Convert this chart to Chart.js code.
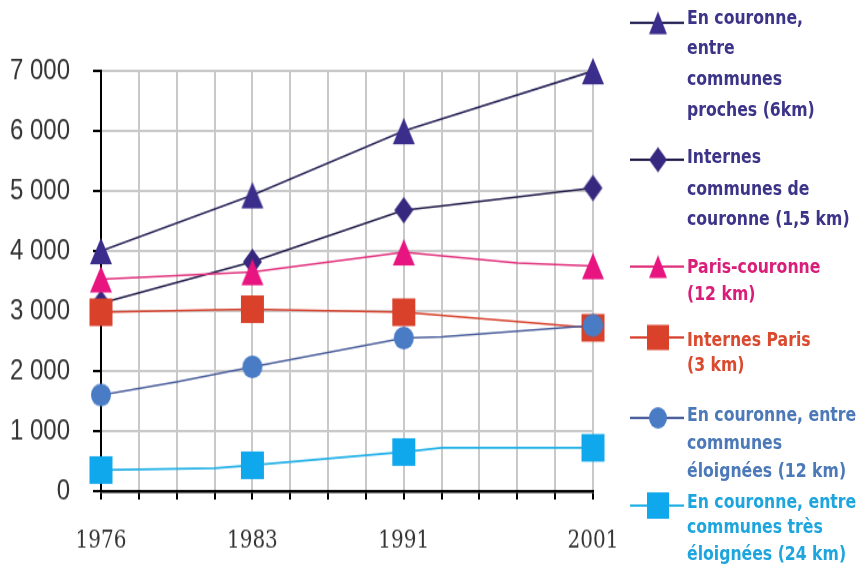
<!DOCTYPE html>
<html lang="fr">
<head>
<meta charset="utf-8">
<title>Déplacements domicile-travail</title>
<script src="https://cdn.jsdelivr.net/npm/chart.js@4.4.1/dist/chart.umd.min.js"></script>
<style>
  html { margin: 0; padding: 0; background: #ffffff; overflow: hidden; }
  body { margin: 0; padding: 0; background: #ffffff; width: 858px; height: 574px; }
  #stage { position: relative; width: 858px; height: 478px; transform-origin: 0 0; }
  #plot { position: absolute; left: 0; top: 0; }
  .key { position: absolute; }
  .entry-line {
    position: absolute; left: 687px;
    font-family: "DejaVu Sans", sans-serif; font-weight: bold;
    font-size: 15.7px; line-height: 20px; white-space: nowrap;
  }
</style>
</head>
<body>
<div id="stage">
  <canvas id="plot" width="858" height="478"></canvas>
  <div id="legend"></div>
</div>
<script>
// The figure is drawn on a 858x478 surface and stretched vertically to 574px.
const STRETCH = 574 / 478;

// ---- data ----
const yearLabels = ['1976', '', '', '', '1983', '', '', '', '1991', '', '', '', '', '2001'];

const seriesNames = [
  'En couronne,\nentre\ncommunes\nproches (6km)',
  'Internes\ncommunes de\ncouronne (1,5 km)',
  'Paris-couronne\n(12 km)',
  'Internes Paris\n(3 km)',
  'En couronne, entre\ncommunes\néloignées (12 km)',
  'En couronne, entre\ncommunes très\néloignées (24 km)'
];

const couronneProches      = [4000, null, null, null, 4930, null, null, null, 6000, null, null, null, null, 7000];
const internesCouronne     = [3130, null, null, null, 3820, null, null, null, 4680, 4750, null, null, null, 5050];
const parisCouronne        = [3530, null, null, null, 3650, null, null, null, 3980, null, null, 3800, null, 3750];
const internesParis        = [2980, null, null, 3020, 3030, null, null, null, 2980, null, null, null, null, 2720];
const couronneEloignees    = [1600, null, 1820, null, 2070, null, null, null, 2550, 2570, null, null, null, 2760];
const couronneTresEloignees = [350, null, null, 380, 430, null, null, null, 650, 720, null, null, null, 720];

const seriesValues = [couronneProches, internesCouronne, parisCouronne,
                      internesParis, couronneEloignees, couronneTresEloignees];

// ---- styles ----
const seriesStyles = [
  { line: '#2a2659', fill: '#3a2d8c', text: '#3b3488', shape: 'triangle', size: [22, 22], key: [18, 19] },
  { line: '#1f1b48', fill: '#35287e', text: '#3b3488', shape: 'diamond',  size: [19, 22], key: [18, 21] },
  { line: '#e0307c', fill: '#e8147f', text: '#d81e78', shape: 'triangle', size: [22, 22], key: [18, 19] },
  { line: '#d6402c', fill: '#d9412b', text: '#da4a2f', shape: 'square',   size: [23, 23], key: [22, 21] },
  { line: '#4b5f9c', fill: '#4a7cc5', text: '#4c79b8', shape: 'circle',   size: [20, 19], key: [18, 18] },
  { line: '#22b0e6', fill: '#10a8ec', text: '#1fa5de', shape: 'square',   size: [23, 23], key: [22, 22] }
];

// Legend placement in final (stretched) pixels: key line y, first text line centre, line step.
const legendRows = [
  { key: 23,  first: 17.5,  step: 31 },
  { key: 160, first: 157,   step: 31 },
  { key: 267, first: 267,   step: 27 },
  { key: 337, first: 339.5, step: 25 },
  { key: 418, first: 415,   step: 28 },
  { key: 506, first: 502,   step: 25.5 }
];

function makeMarker(shape, color, w, h) {
  const c = document.createElement('canvas');
  c.width = Math.ceil(w) + 2;
  c.height = Math.ceil(h) + 2;
  const g = c.getContext('2d');
  const cx = c.width / 2, cy = c.height / 2;
  g.fillStyle = color;
  g.beginPath();
  if (shape === 'triangle') {
    g.moveTo(cx, cy - h / 2);
    g.lineTo(cx + w / 2, cy + h / 2);
    g.lineTo(cx - w / 2, cy + h / 2);
    g.closePath();
  } else if (shape === 'diamond') {
    g.moveTo(cx, cy - h / 2);
    g.lineTo(cx + w / 2, cy);
    g.lineTo(cx, cy + h / 2);
    g.lineTo(cx - w / 2, cy);
    g.closePath();
  } else if (shape === 'circle') {
    g.ellipse(cx, cy, w / 2, h / 2, 0, 0, Math.PI * 2);
  } else {
    g.rect(cx - w / 2, cy - h / 2, w, h);
  }
  g.fill();
  return c;
}

function formatThousands(v) {
  const s = String(Math.round(v));
  return s.length > 3 ? s.slice(0, -3) + ' ' + s.slice(-3) : s;
}

const markerIndex = yearLabels.map(l => l !== '');

document.getElementById('stage').style.transform = 'scaleY(' + STRETCH + ')';

const datasets = seriesValues.map((vals, i) => {
  const st = seriesStyles[i];
  return {
    label: seriesNames[i],
    data: vals,
    borderColor: st.line,
    backgroundColor: st.fill,
    borderWidth: 1.6,
    pointStyle: makeMarker(st.shape, st.fill, st.size[0], st.size[1]),
    pointRadius: ctx => (markerIndex[ctx.dataIndex] ? 12 : 0),
    pointHoverRadius: ctx => (markerIndex[ctx.dataIndex] ? 12 : 0),
    spanGaps: true,
    tension: 0,
    fill: false,
    clip: false,
    order: seriesValues.length - i
  };
});

const chart = new Chart(document.getElementById('plot'), {
  type: 'line',
  data: { labels: yearLabels, datasets: datasets },
  options: {
    responsive: false,
    animation: false,
    devicePixelRatio: 1,
    layout: { padding: { top: 71 / STRETCH, right: 858 - 593, bottom: 0, left: 0 } },
    plugins: { legend: { display: false }, tooltip: { enabled: false } },
    scales: {
      x: {
        type: 'category',
        offset: false,
        grid: { color: '#c9c9c9', lineWidth: 2, drawTicks: true, tickLength: 7, tickColor: '#000000', tickWidth: 2 },
        border: { color: '#000000', width: 2.5 },
        ticks: {
          autoSkip: false, maxRotation: 0, minRotation: 0, padding: 22.6,
          color: '#333333', font: { family: "'DejaVu Serif', serif", size: 20 }
        },
        afterFit: s => { s.height = 478 - 491 / STRETCH; }
      },
      y: {
        min: 0, max: 7000,
        grid: { color: '#c9c9c9', lineWidth: 2, drawTicks: true, tickLength: 8, tickColor: '#000000', tickWidth: 2 },
        border: { color: '#000000', width: 2 },
        ticks: {
          stepSize: 1000, padding: 23,
          color: '#333333', font: { family: "'Liberation Sans', Arial, sans-serif", size: 24 },
          callback: v => formatThousands(v)
        },
        afterFit: s => { s.width = 101; }
      }
    }
  }
});

// ---- legend built from the chart datasets ----
const legendBox = document.getElementById('legend');
chart.data.datasets.forEach((ds, i) => {
  const st = seriesStyles[i];
  const row = legendRows[i];

  const key = document.createElement('canvas');
  key.className = 'key';
  key.width = 56; key.height = 30;
  key.style.left = '630px';
  key.style.top = (row.key / STRETCH - 15) + 'px';
  const g = key.getContext('2d');
  g.strokeStyle = st.line;
  g.lineWidth = 1.8;
  g.beginPath(); g.moveTo(0, 15); g.lineTo(54, 15); g.stroke();
  const m = makeMarker(st.shape, st.fill, st.key[0], st.key[1]);
  g.drawImage(m, 28 - m.width / 2, 15 - m.height / 2);
  legendBox.appendChild(key);

  ds.label.split('\n').forEach((txt, j) => {
    const line = document.createElement('div');
    line.className = 'entry-line';
    line.style.color = st.text;
    line.style.top = ((row.first + j * row.step) / STRETCH - 10) + 'px';
    line.textContent = txt;
    legendBox.appendChild(line);
  });
});
</script>
</body>
</html>
